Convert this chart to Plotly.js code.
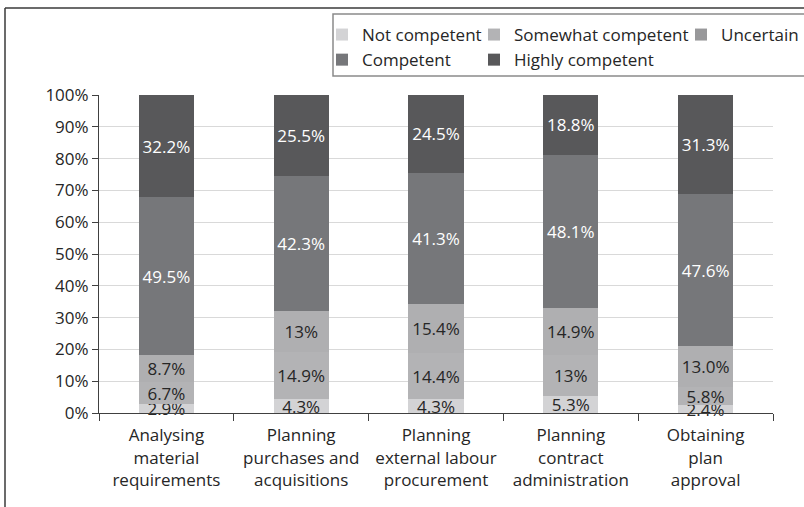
<!DOCTYPE html>
<html>
<head>
<meta charset="utf-8">
<script src="https://cdn.plot.ly/plotly-3.0.1.min.js"></script>
<style>html,body{margin:0;padding:0;background:#fff;}#chart{width:804px;height:507px;}</style>
</head>
<body>
<div id="chart"></div>
<script>
var categories = [
  "Analysing<br>material<br>requirements",
  "Planning<br>purchases and<br>acquisitions",
  "Planning<br>external labour<br>procurement",
  "Planning<br>contract<br>administration",
  "Obtaining<br>plan<br>approval"
];
var notCompetent = ["2.9", "4.3", "4.3", "5.3", "2.4"];
var somewhatCompetent = ["6.7", "14.9", "14.4", "13", "5.8"];
var uncertain = ["8.7", "13", "15.4", "14.9", "13.0"];
var competent = ["49.5", "42.3", "41.3", "48.1", "47.6"];
var highlyCompetent = ["32.2", "25.5", "24.5", "18.8", "31.3"];
var seriesNames = ["Not competent", "Somewhat competent", "Uncertain", "Competent", "Highly competent"];
var yTickVals = [0, 10, 20, 30, 40, 50, 60, 70, 80, 90, 100];

var FONT = "Open Sans, DejaVu Sans, sans-serif";
var series = [notCompetent, somewhatCompetent, uncertain, competent, highlyCompetent];
var colors = ["#d3d3d5", "#b3b3b5", "#afafb1", "#76777a", "#58585a"];
var legendColors = ["#d3d3d5", "#b3b3b5", "#98989a", "#76777a", "#58585a"];
var textColors = ["#262626", "#262626", "#262626", "#ffffff", "#ffffff"];
var legendIds = ["legend", "legend2", "legend3", "legend", "legend2"];

var traces = series.map(function (vals, i) {
  return {
    type: "bar",
    name: seriesNames[i],
    x: categories,
    y: vals,
    text: vals.map(function (v) { return v + "%"; }),
    textposition: "inside",
    insidetextanchor: "middle",
    textangle: 0,
    constraintext: "none",
    cliponaxis: false,
    textfont: { family: FONT, size: 17, color: textColors[i] },
    marker: { color: colors[i], line: { width: 0 } },
    legend: legendIds[i],
    hoverinfo: "name+y"
  };
});

function px2x(px) { return (px - 99) / 674; }
function py2y(py) { return (413 - py) / 318; }

var legendCommon = {
  orientation: "v",
  traceorder: "normal",
  bgcolor: "rgba(0,0,0,0)",
  borderwidth: 0,
  font: { family: FONT, size: 17, color: "#262626" },
  xanchor: "left",
  yanchor: "top",
  itemwidth: 30,
  tracegroupgap: 0
};

var layout = {
  width: 804,
  height: 507,
  margin: { l: 99, r: 31, t: 95, b: 94, autoexpand: false },
  paper_bgcolor: "#ffffff",
  plot_bgcolor: "#ffffff",
  barmode: "stack",
  barnorm: "percent",
  bargap: 0.59,
  font: { family: FONT, size: 17, color: "#262626" },
  showlegend: true,
  legend: Object.assign({}, legendCommon, { x: px2x(322), y: py2y(17) }),
  legend2: Object.assign({}, legendCommon, { x: px2x(474), y: py2y(17) }),
  legend3: Object.assign({}, legendCommon, { x: px2x(681), y: py2y(17) }),
  xaxis: {
    type: "category",
    tickson: "boundaries",
    ticks: "outside",
    ticklen: 7,
    tickcolor: "#404040",
    tickangle: 0,
    automargin: false,
    showline: true,
    linecolor: "#404040",
    linewidth: 1,
    showgrid: false,
    ticklabelstandoff: 7,
    tickfont: { family: FONT, size: 17, color: "#262626" },
    fixedrange: true
  },
  yaxis: {
    range: [0, 100],
    tickvals: yTickVals,
    ticktext: yTickVals.map(function (v) { return v + "%"; }),
    ticks: "outside",
    ticklen: 6,
    tickcolor: "#404040",
    automargin: false,
    showline: true,
    linecolor: "#404040",
    linewidth: 1,
    showgrid: true,
    gridcolor: "#d9d9d9",
    gridwidth: 1,
    zeroline: false,
    tickfont: { family: FONT, size: 17, color: "#262626" },
    fixedrange: true
  },
  shapes: [
    { type: "rect", xref: "paper", yref: "paper", x0: px2x(333), x1: px2x(830), y0: py2y(76), y1: py2y(14),
      line: { color: "#8a8a8a", width: 1.5 }, fillcolor: "rgba(0,0,0,0)", layer: "below" },
    { type: "line", xref: "paper", yref: "paper", x0: px2x(5), x1: px2x(830), y0: py2y(8), y1: py2y(8),
      line: { color: "#3a3a3a", width: 1.5 } },
    { type: "line", xref: "paper", yref: "paper", x0: px2x(5), x1: px2x(5), y0: py2y(8), y1: py2y(530),
      line: { color: "#3a3a3a", width: 1.5 } }
  ]
};

Plotly.newPlot("chart", traces, layout, { displayModeBar: false, staticPlot: true }).then(function () {
  // legend swatch colour for "Uncertain" (legend shows it darker than the bar fill)
  var pts = document.querySelectorAll(".legend3 .legendpoints path");
  pts.forEach(function (p) { p.style.fill = legendColors[2]; });
});
</script>
</body>
</html>
